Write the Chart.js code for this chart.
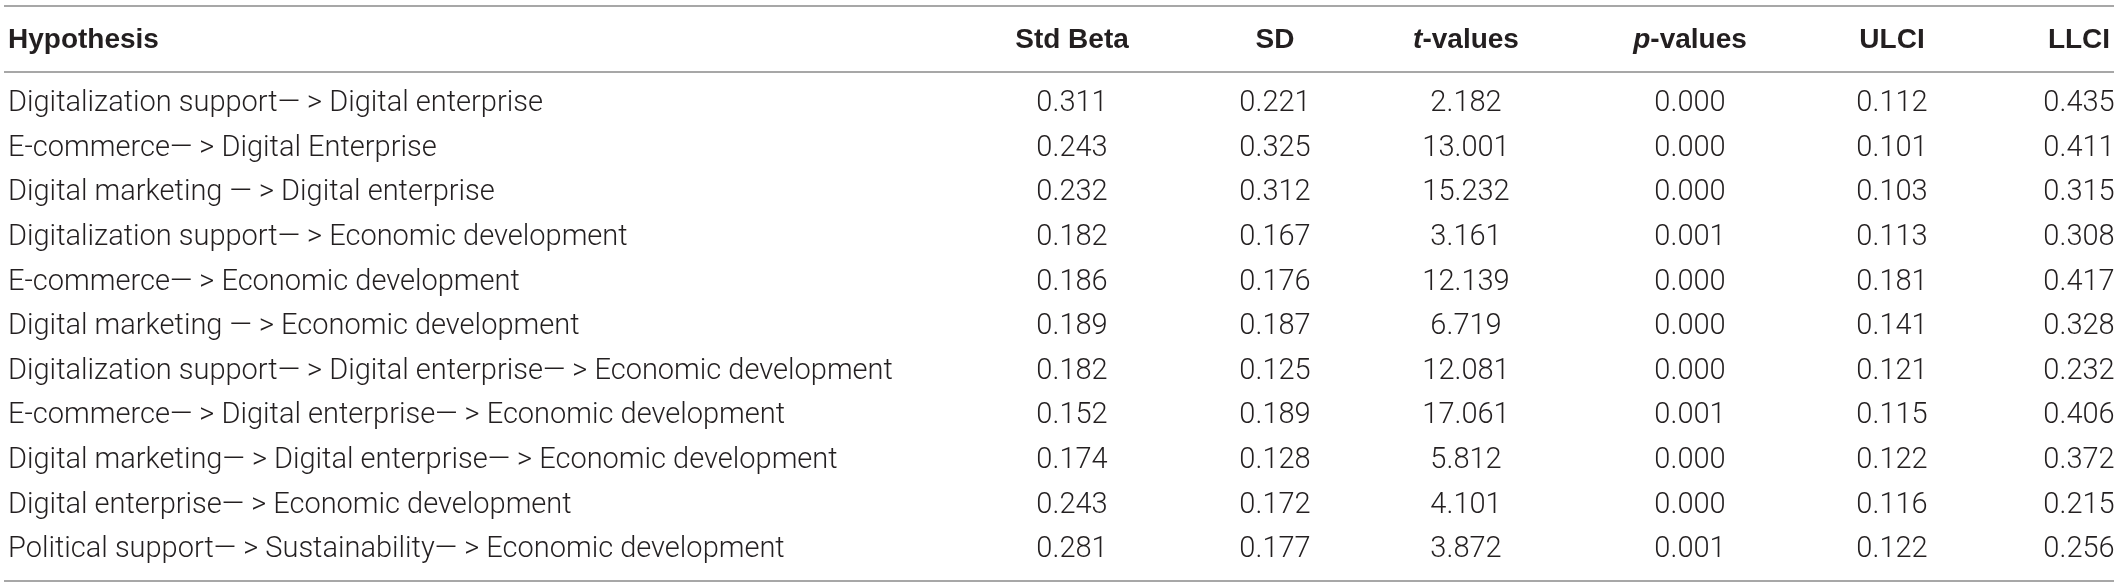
<!DOCTYPE html>
<html>
<head>
<meta charset="utf-8">
<script src="https://cdn.jsdelivr.net/npm/chart.js@4.4.0/dist/chart.umd.min.js"></script>
<style>
html,body{margin:0;padding:0;background:#ffffff;overflow:hidden}
#wrap{width:2117px;height:588px;position:relative}
canvas{display:block}
</style>
</head>
<body>
<div id="wrap"><canvas id="c" width="2117" height="588"></canvas></div>
<script>
// ---- data ----
const hypotheses = [
  "Digitalization support\u2014 > Digital enterprise",
  "E-commerce\u2014 > Digital Enterprise",
  "Digital marketing \u2014 > Digital enterprise",
  "Digitalization support\u2014 > Economic development",
  "E-commerce\u2014 > Economic development",
  "Digital marketing \u2014 > Economic development",
  "Digitalization support\u2014 > Digital enterprise\u2014 > Economic development",
  "E-commerce\u2014 > Digital enterprise\u2014 > Economic development",
  "Digital marketing\u2014 > Digital enterprise\u2014 > Economic development",
  "Digital enterprise\u2014 > Economic development",
  "Political support\u2014 > Sustainability\u2014 > Economic development"
];
const stdBeta = [0.311, 0.243, 0.232, 0.182, 0.186, 0.189, 0.182, 0.152, 0.174, 0.243, 0.281];
const sdValues = [0.221, 0.325, 0.312, 0.167, 0.176, 0.187, 0.125, 0.189, 0.128, 0.172, 0.177];
const tValues = [2.182, 13.001, 15.232, 3.161, 12.139, 6.719, 12.081, 17.061, 5.812, 4.101, 3.872];
const pValues = [0.000, 0.000, 0.000, 0.001, 0.000, 0.000, 0.000, 0.001, 0.000, 0.000, 0.001];
const ulci = [0.112, 0.101, 0.103, 0.113, 0.181, 0.141, 0.121, 0.115, 0.122, 0.116, 0.122];
const llci = [0.435, 0.411, 0.315, 0.308, 0.417, 0.328, 0.232, 0.406, 0.372, 0.215, 0.256];
const columnHeaders = ["Hypothesis", "Std Beta", "SD", "t-values", "p-values", "ULCI", "LLCI"];
const headerItalicPrefix = ["", "", "", "t", "p", "", ""];

// ---- layout / style ----
const colX = [8, 1072, 1275, 1466, 1690, 1892, 2079];
const valueColumns = [stdBeta, sdValues, tValues, pValues, ulci, llci];
const W = 2117, H = 588;
const headerY = 40;
const ruleYs = [6, 72, 581];
const ruleColor = "#a7a7a7";
const textColor = "#231f20";
const bodyFont = "300 29px Roboto, 'Liberation Sans', sans-serif";
const headFont = "bold 28px 'Liberation Sans', Arial, sans-serif";
const headItalicFont = "italic bold 28px 'Liberation Sans', Arial, sans-serif";

const datasets = [];
datasets.push({
  label: columnHeaders[0],
  data: hypotheses.map(h => ({x: colX[0], y: h})),
  pointRadius: 0
});
valueColumns.forEach((arr, c) => {
  datasets.push({
    label: columnHeaders[c + 1],
    data: arr.map((v, i) => ({x: colX[c + 1], y: hypotheses[i]})),
    pointRadius: 0
  });
});

const tablePlugin = {
  id: "tableText",
  afterDatasetsDraw(chart) {
    const ctx = chart.ctx;
    ctx.save();
    // rules
    ctx.strokeStyle = ruleColor;
    ctx.lineWidth = 2;
    ruleYs.forEach(y => {
      ctx.beginPath();
      ctx.moveTo(4, y);
      ctx.lineTo(W - 3, y);
      ctx.stroke();
    });
    // header
    ctx.fillStyle = textColor;
    ctx.textBaseline = "middle";
    const xs = chart.scales.x;
    columnHeaders.forEach((hd, c) => {
      const px = xs.getPixelForValue(colX[c]);
      const it = headerItalicPrefix[c];
      const rest = hd.slice(it.length);
      ctx.font = headItalicFont;
      const wi = it ? ctx.measureText(it).width : 0;
      ctx.font = headFont;
      const wr = ctx.measureText(rest).width;
      const total = wi + wr;
      const start = c === 0 ? px : px - total / 2;
      ctx.textAlign = "left";
      if (it) {
        ctx.font = headItalicFont;
        ctx.fillText(it, start, headerY);
      }
      ctx.font = headFont;
      ctx.fillText(rest, start + wi, headerY);
    });
    // cells
    ctx.font = bodyFont;
    chart.data.datasets.forEach((ds, d) => {
      const meta = chart.getDatasetMeta(d);
      meta.data.forEach((pt, i) => {
        let txt;
        if (d === 0) {
          txt = hypotheses[i];
          ctx.textAlign = "left";
        } else {
          txt = valueColumns[d - 1][i].toFixed(3);
          ctx.textAlign = "center";
        }
        ctx.fillText(txt, pt.x, pt.y);
      });
    });
    ctx.restore();
  }
};

new Chart(document.getElementById("c"), {
  type: "scatter",
  data: {datasets},
  options: {
    responsive: false,
    animation: false,
    devicePixelRatio: 1,
    events: [],
    layout: {padding: {top: 81.6, bottom: H - 572.4, left: 0, right: 0}},
    plugins: {legend: {display: false}, tooltip: {enabled: false}},
    scales: {
      x: {type: "linear", min: 0, max: W, display: false},
      y: {type: "category", labels: hypotheses, offset: true, display: false}
    }
  },
  plugins: [tablePlugin]
});
</script>
</body>
</html>
